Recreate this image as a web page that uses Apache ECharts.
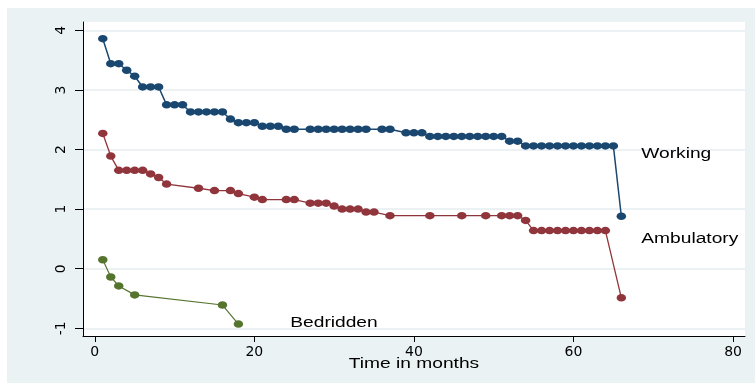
<!DOCTYPE html>
<html>
<head>
<meta charset="utf-8">
<script src="https://cdn.jsdelivr.net/npm/echarts@6/dist/echarts.min.js"></script>
<style>
html,body{margin:0;padding:0;background:#fff;}
#wrap{position:relative;width:755px;height:383px;overflow:hidden;}
#bg{position:absolute;left:7px;top:8px;right:0;bottom:0;background:#eaf2f3;}
#main_chart{position:absolute;left:0;top:0;width:755px;height:383px;}
</style>
</head>
<body>
<div id="wrap"><div id="bg"></div><div id="main_chart"></div></div>
<script>
// Working
var workMonths = [1,2,3,4,5,6,7,8,9,10,11,12,13,14,15,16,17,18,19,20,21,22,23,24,25,
    27,28,29,30,31,32,33,34,36,37,39,40,41,42,43,44,45,46,47,48,49,50,51,52,53,
    54,55,56,57,58,59,60,61,62,63,64,65,66];
var workValues = [3.86,3.44,3.44,3.33,3.23,3.05,3.05,3.05,2.75,2.75,2.75,2.63,2.63,2.63,2.63,2.63,2.51,2.45,2.45,2.45,2.39,2.39,2.39,2.34,2.34,
    2.34,2.34,2.34,2.34,2.34,2.34,2.34,2.34,2.34,2.34,2.28,2.28,2.28,2.22,2.22,2.22,2.22,2.22,2.22,2.22,2.22,2.22,2.22,2.14,2.14,
    2.06,2.06,2.06,2.06,2.06,2.06,2.06,2.06,2.06,2.06,2.06,2.06,0.88];

// Ambulatory
var ambMonths = [1,2,3,4,5,6,7,8,9,13,15,17,18,20,21,24,25,27,28,29,30,31,32,33,34,35,37,42,46,49,51,52,53,
    54,55,56,57,58,59,60,61,62,63,64,66];
var ambValues = [2.27,1.89,1.65,1.65,1.65,1.65,1.59,1.53,1.42,1.35,1.31,1.31,1.26,1.20,1.16,1.16,1.16,1.10,1.10,1.10,1.05,1.00,1.00,1.00,0.95,0.95,0.89,0.89,0.89,0.89,0.89,0.89,0.89,
    0.81,0.64,0.64,0.64,0.64,0.64,0.64,0.64,0.64,0.64,0.64,-0.49];

// Bedridden
var bedMonths = [1,2,3,5,16,18];
var bedValues = [0.15,-0.14,-0.29,-0.44,-0.61,-0.93];

var xTicks = [0,20,40,60,80];
var yTicks = [-1,0,1,2,3,4];

var labelNames = ['Working','Ambulatory','Bedridden'];
var labelX = [68.5, 68.5, 24.5];
var labelY = [1.92, 0.49, -0.92];

var xMin = -1.48, xMax = 81.5;
var yMin = -1.13, yMax = 4.14;

var toPairs = function(xs, ys){
    var out = [];
    for(var i=0; i<xs.length; i++){
        out.push([xs[i], ys[i]]);
    }
    return out;
};

var makeSeries = function(name, xs, ys, color, width){
    return {
        name:name,
        type:'line',
        data:toPairs(xs, ys),
        symbol:'circle',
        symbolSize:[9.5,7.5],
        showSymbol:true,
        itemStyle:{color:color},
        lineStyle:{color:color, width:width},
        animation:false
    };
};

var main_chart = echarts.init(document.getElementById('main_chart'));
main_chart.setOption({
    animation:false,
    grid:{left:83, right:10, top:22, bottom:47, show:true, backgroundColor:'#fff', borderWidth:0},
    xAxis:{
        type:'value', min:xMin, max:xMax,
        axisLine:{show:true, onZero:false, lineStyle:{color:'#000', width:1}},
        axisTick:{show:true, length:6, customValues:xTicks, lineStyle:{color:'#000'}},
        axisLabel:{customValues:xTicks, margin:9, color:'#000', fontSize:14, fontFamily:'DejaVu Sans'},
        splitLine:{show:false}
    },
    yAxis:{
        type:'value', min:yMin, max:yMax,
        axisLine:{show:true, onZero:false, lineStyle:{color:'#000', width:1}},
        axisTick:{show:true, length:8, customValues:yTicks, lineStyle:{color:'#000'}},
        axisLabel:{customValues:yTicks, rotate:90, margin:15, color:'#000', fontSize:14, fontFamily:'DejaVu Sans'},
        splitLine:{show:true, lineStyle:{color:'#e6eef0', width:1.5}}
    },
    series:[
        makeSeries('Working', workMonths, workValues, '#1a476f', 1.5),
        makeSeries('Ambulatory', ambMonths, ambValues, '#90353b', 1.3),
        makeSeries('Bedridden', bedMonths, bedValues, '#55752f', 1.2)
    ]
});

var graphics = [];
for(var i=0; i<labelNames.length; i++){
    var p = main_chart.convertToPixel({gridIndex:0}, [labelX[i], labelY[i]]);
    graphics.push({
        type:'text', x:p[0], y:p[1], scaleX:1.37, silent:true,
        style:{text:labelNames[i], font:'14px "Liberation Sans"', fill:'#000', align:'left', verticalAlign:'middle'}
    });
}
var mid = main_chart.convertToPixel({gridIndex:0}, [(xMin + xMax) / 2, yMin]);
graphics.push({
    type:'text', x:mid[0], y:364, scaleX:1.37, silent:true,
    style:{text:'Time in months', font:'14px "Liberation Sans"', fill:'#000', align:'center', verticalAlign:'middle'}
});
main_chart.setOption({graphic:graphics});
</script>
</body>
</html>
